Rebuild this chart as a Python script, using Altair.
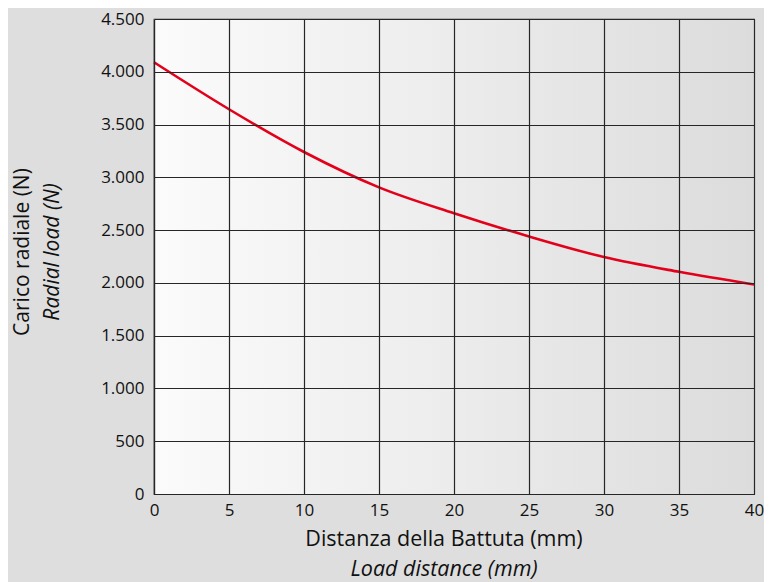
import altair as alt
import pandas as pd

distance_mm = [0, 5, 10, 15, 20, 25, 30, 35, 40]
radial_load_n = [4090, 3645, 3240, 2905, 2660, 2440, 2245, 2105, 1985]

x_ticks = [0, 5, 10, 15, 20, 25, 30, 35, 40]
y_ticks = [0, 500, 1000, 1500, 2000, 2500, 3000, 3500, 4000, 4500]

W, H = 600, 475
FONT = "Open Sans"
GRID = "#262626"

df = pd.DataFrame({"x": distance_mm, "y": radial_load_n})

x_scale = alt.Scale(domain=[0, 40], nice=False, zero=False)
y_scale = alt.Scale(domain=[0, 4500], nice=False)

x_axis = alt.Axis(values=x_ticks, title=None, ticks=False, labelPadding=8,
                  labelFontSize=17, labelColor="#111", labelFont=FONT,
                  grid=True, gridColor=GRID, gridWidth=1.2, zindex=1,
                  domainColor=GRID, domainWidth=1.2, labelFlush=False)
y_axis = alt.Axis(values=y_ticks, title=None, ticks=False, labelPadding=10,
                  labelFontSize=17, labelColor="#111", labelFont=FONT,
                  grid=True, gridColor=GRID, gridWidth=1.2, zindex=1,
                  domainColor=GRID, domainWidth=1.2,
                  labelExpr="replace(format(datum.value, ','), ',', '.')")

bg = alt.Chart(df).mark_rect(
    color=alt.Gradient(gradient="linear", x1=0, x2=1, y1=0, y2=0,
                       stops=[alt.GradientStop(offset=0, color="#fbfbfb"),
                              alt.GradientStop(offset=0.5, color="#ececec"),
                              alt.GradientStop(offset=1, color="#dcdcdc")])
).encode(x=alt.value(0), x2=alt.value(W), y=alt.value(0), y2=alt.value(H))

line = alt.Chart(df).mark_line(color="#e2001a", strokeWidth=2.6, interpolate="monotone").encode(
    x=alt.X("x:Q", scale=x_scale, axis=x_axis),
    y=alt.Y("y:Q", scale=y_scale, axis=y_axis),
)

def label(text, px, py, italic=False, angle=0, size=21):
    return alt.Chart(pd.DataFrame({"t": [text]})).mark_text(
        font=FONT, fontSize=size, color="#111", fontStyle="italic" if italic else "normal",
        angle=angle, align="center", baseline="middle"
    ).encode(text="t:N", x=alt.value(px), y=alt.value(py))

titles = (
    label("Distanza della Battuta (mm)", 290, 521, size=21.5)
    + label("Load distance (mm)", 290, 551, italic=True, size=21.5)
    + label("Carico radiale (N)", -131, 233, angle=270)
    + label("Radial load (N)", -101, 233, italic=True, angle=270)
)

chart = alt.layer(bg, line, titles).properties(
    width=W, height=H, autosize="none",
    padding={"left": 146, "top": 11, "right": 10, "bottom": 88},
    background="#dedede",
).configure_view(stroke=GRID, strokeWidth=1.2)

chart.save("out.html", embed_options={"renderer": "svg", "actions": False})
